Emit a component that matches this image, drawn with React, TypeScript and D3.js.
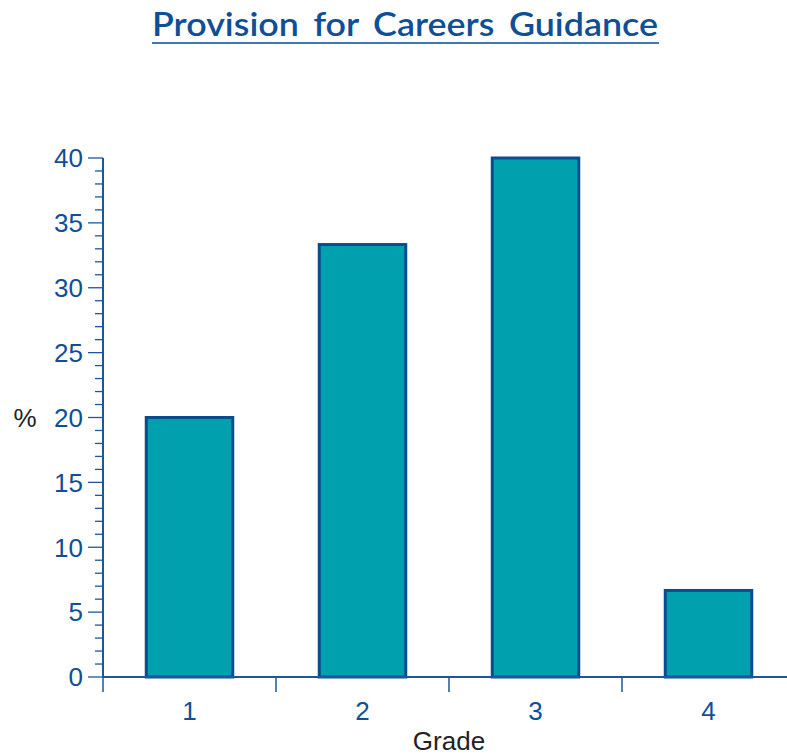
import React from "react";
import * as d3 from "d3";

const categories = ["1", "2", "3", "4"];
const values = [20, 33.33, 40, 6.67];
const yTicks = [0, 5, 10, 15, 20, 25, 30, 35, 40];
const title = "Provision for Careers Guidance";
const xLabel = "Grade";
const yLabel = "%";

const W = 787;
const H = 756;
const axisColor = "#1d5699";
const barFill = "#00a0ae";
const barStroke = "#0b4c8f";
const textBlue = "#0f4f96";

export default function App() {
  const x = d3.scaleBand<string>().domain(categories).range([103, 795]).paddingInner(0.5).paddingOuter(0.25);
  const y = d3.scaleLinear().domain([0, 40]).range([677, 158]);
  const minor = d3.range(0, 41, 1);
  const boundaries = [103, 276, 449, 622];
  return (
    <svg width={W} height={H} style={{ position: "absolute", left: 0, top: 0, background: "#fff" }}>
      <text x={152} y={36} fontFamily="Lato, 'Open Sans', sans-serif" fontWeight={600} fontSize={32}
        fill={textBlue} wordSpacing={5} textLength={506} lengthAdjust="spacingAndGlyphs">{title}</text>
      <line x1={152} x2={659} y1={43} y2={43} stroke="#3f78b5" strokeWidth={2} />
      {/* bars */}
      {categories.map((c, i) => (
        <rect key={c} x={x(c)!} y={y(values[i])} width={x.bandwidth()} height={y(0) - y(values[i])}
          fill={barFill} stroke={barStroke} strokeWidth={3} />
      ))}
      {/* y axis */}
      <line x1={103} x2={103} y1={y(40)} y2={y(0)} stroke={axisColor} strokeWidth={2} />
      {minor.map((v) => (
        <line key={"m" + v} x1={v % 5 === 0 ? 88 : 95} x2={103} y1={y(v)} y2={y(v)} stroke={axisColor} strokeWidth={1.3} />
      ))}
      {yTicks.map((v) => (
        <text key={"t" + v} x={83} y={y(v)} dy="0.36em" textAnchor="end" fontFamily="'Liberation Sans', Arial, sans-serif"
          fontSize={26} fill={textBlue}>{v}</text>
      ))}
      {/* x axis */}
      <line x1={103} x2={W} y1={y(0)} y2={y(0)} stroke={axisColor} strokeWidth={2} />
      {boundaries.map((b) => (
        <line key={"b" + b} x1={b} x2={b} y1={y(0)} y2={692} stroke={axisColor} strokeWidth={1.5} />
      ))}
      {categories.map((c) => (
        <text key={"x" + c} x={x(c)! + x.bandwidth() / 2} y={720} textAnchor="middle"
          fontFamily="'Liberation Sans', Arial, sans-serif" fontSize={26} fill={textBlue}>{c}</text>
      ))}
      <text x={449} y={750} textAnchor="middle" fontFamily="'Liberation Sans', Arial, sans-serif" fontSize={26} fill="#222">{xLabel}</text>
      <text x={25} y={y(20)} dy="0.36em" textAnchor="middle" fontFamily="'Liberation Sans', Arial, sans-serif" fontSize={26} fill="#222">{yLabel}</text>
    </svg>
  );
}
